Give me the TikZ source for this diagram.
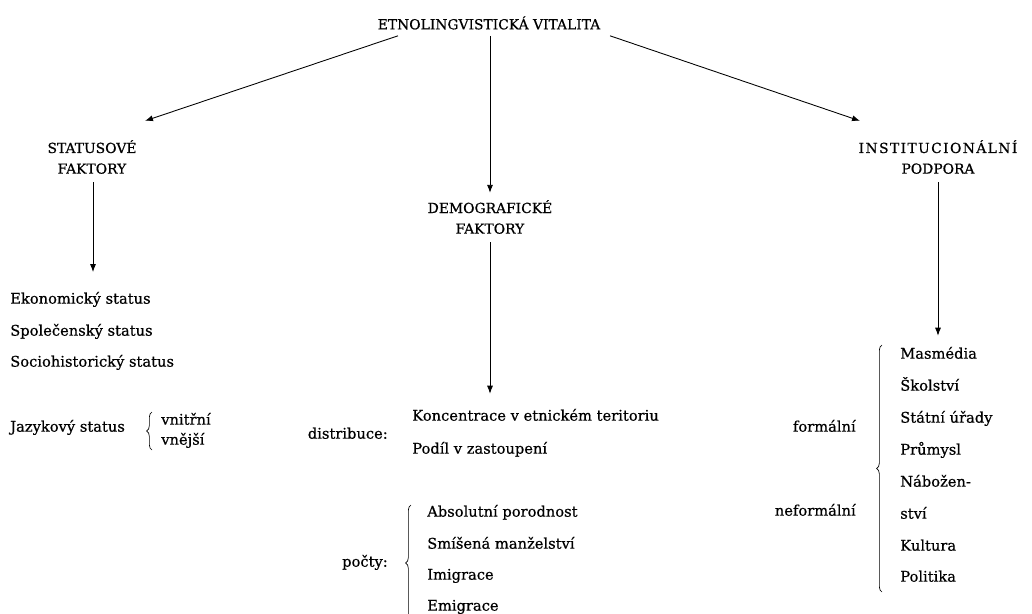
\documentclass[tikz,border=0pt]{standalone}
\usepackage{fontspec}
\setmainfont{DejaVu Serif}[FakeBold=0.6]
\newfontfamily\spacedfont{DejaVu Serif}[LetterSpace=10, FakeBold=0.6]
\usetikzlibrary{arrows.meta,calc,decorations.pathreplacing}
\newcommand{\headfont}{\fontsize{10.4}{15.5}\selectfont}
\newcommand{\bodyfont}{\fontsize{11}{12}\selectfont}
\tikzset{
    head/.style    ={font=\headfont, align=center, inner sep=0pt},
    item/.style    ={font=\bodyfont, anchor=west, inner sep=0pt, text height=8pt, text depth=2.5pt},
    label/.style   ={font=\bodyfont, anchor=east, inner sep=0pt, text height=8pt, text depth=2.5pt},
    arr/.style     ={-{Latex[length=6pt,width=4.5pt]}, line width=0.65pt},
    bracket/.style ={decorate, decoration={brace, amplitude=4pt}, line width=0.5pt}
}
\begin{document}
\begin{tikzpicture}[x=0.75pt, y=-0.75pt]
    \useasboundingbox (0,0) rectangle (1032,614);
    \node[head]                 (root)  at (489, 23) {ETNOLINGVISTICKÁ VITALITA};
    \node[head]                 (stat)  at ( 92,157) {STATUSOVÉ\\FAKTORY};
    \node[head]                 (demo)  at (490,217) {DEMOGRAFICKÉ\\FAKTORY};
    \node[head]                 (inst)  at (938,157) {{\spacedfont INSTITUCIONÁLNÍ}\\PODPORA};
    \draw[arr] ($(root.south)+(-91,6)$) -- ($(stat.north)+(53,-19)$);
    \draw[arr] ($(root.south)+(  1,6)$) -- ($(demo.north)+( 0, -7)$);
    \draw[arr] ($(root.south)+(121,6)$) -- ($(inst.north)+(-78,-19)$);
    % statusove faktory
    \node[item]                 (eko)   at ( 10,300) {Ekonomický status};
    \node[item]                 (spol)  at ( 10,332) {Společenský status};
    \node[item]                 (soc)   at ( 10,363) {Sociohistorický status};
    \node[item]                 (jaz)   at ( 10,428) {Jazykový status};
    \node[item]                 (vnitr) at (161,421) {vnitřní};
    \node[item]                 (vnej)  at (161,441) {vnější};
    \draw[bracket] (152,450) -- (152,412);
    \draw[arr] ($(stat.south)+(1,8)$) -- ($(stat.south)+(1,98)$);
    % demograficke faktory
    \node[label]                (distr) at (388,435) {distribuce:};
    \node[item]                 (konc)  at (412,417) {Koncentrace v etnickém teritoriu};
    \node[item]                 (podil) at (412,450) {Podíl v zastoupení};
    \node[label]                (pocty) at (388,563) {počty:};
    \node[item]                 (abs)   at (427,513) {Absolutní porodnost};
    \node[item]                 (smis)  at (427,545) {Smíšená manželství};
    \node[item]                 (imig)  at (427,576) {Imigrace};
    \node[item]                 (emig)  at (427,607) {Emigrace};
    \draw[bracket] (411,621) -- (411,505);
    \draw[arr] ($(demo.south)+(0,8)$) -- ($(konc.north -| demo.south)+(0,-16)$);
    % institucionalni podpora
    \node[label]                (form)  at (856,428) {formální};
    \node[label]                (neform)at (856,512) {neformální};
    \node[item]                 (masm)  at (900,355) {Masmédia};
    \node[item]                 (skol)  at (900,387) {Školství};
    \node[item]                 (urad)  at (900,419) {Státní úřady};
    \node[item]                 (prum)  at (900,451) {Průmysl};
    \node[item]                 (nab)   at (900,483) {Nábožen-};
    \node[item]                 (stvi)  at (900,515) {ství};
    \node[item]                 (kult)  at (900,547) {Kultura};
    \node[item]                 (polit) at (900,578) {Politika};
    \draw[bracket] (882,592) -- (882,345);
    \draw[arr] ($(inst.south)+(0,8)$) -- ($(masm.north -| inst.south)+(0,-12)$);
\end{tikzpicture}
\end{document}
